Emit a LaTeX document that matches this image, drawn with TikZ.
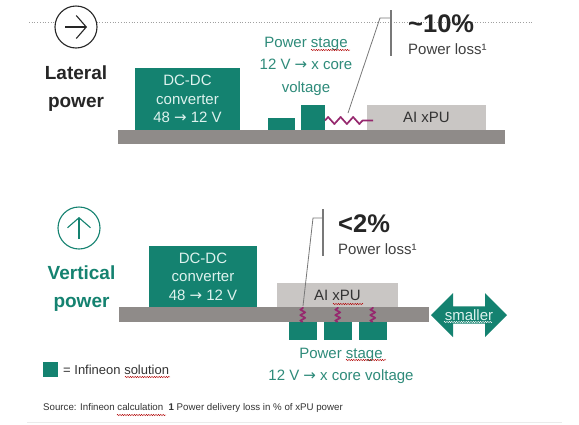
\documentclass[tikz,border=0pt]{standalone}
\usepackage{fontspec}
\setmainfont{Liberation Sans}
\newfontfamily\arrowfont{DejaVu Sans}
\newcommand{\toarrow}{{\arrowfont →}}
\usetikzlibrary{arrows.meta,positioning,shapes.arrows,decorations.pathmorphing}
\definecolor{ifxgreen}{RGB}{20,130,112}
\definecolor{ifxtext}{RGB}{46,139,122}
\definecolor{boardcol}{RGB}{143,139,137}
\definecolor{xpucol}{RGB}{201,198,196}
\definecolor{wirecol}{RGB}{150,40,110}
\definecolor{leadcol}{RGB}{120,120,120}
\definecolor{boxtext}{RGB}{222,242,238}
\tikzset{
  block/.style    = {rectangle, inner sep=0pt, outer sep=0pt, minimum width=#1},
  board/.style    = {block=#1, fill=boardcol, minimum height=14pt},
  conv/.style     = {block=#1, fill=ifxgreen, align=center, text=boxtext,
                     font=\fontsize{15}{18.5}\selectfont},
  stagebox/.style = {block=#1, fill=ifxgreen},
  xpu/.style      = {block=#1, fill=xpucol, text=black!80,
                     font=\fontsize{15}{18}\selectfont},
  stagelab/.style = {align=center, text=ifxtext, inner sep=0pt,
                     font=\fontsize{15}{22.5}\selectfont},
  title/.style    = {align=center, inner sep=0pt, font=\fontsize{19}{28}\selectfont\bfseries},
  dircircle/.style = {circle, draw=#1, line width=1.1pt, fill=white,
                     minimum size=42pt, inner sep=0pt},
  dirarrow/.style = {-{Straight Barb[length=10pt,width=23pt,line width=1.1pt]}, line width=1.1pt, draw=#1},
  wire/.style     = {draw=wirecol, line width=1.7pt, line join=round, decorate},
  lead/.style     = {draw=leadcol, line width=0.8pt},
  percent/.style  = {anchor=west, inner sep=0pt, text=black!85,
                     font=\fontsize{25.5}{28}\selectfont\bfseries},
  losslab/.style  = {anchor=west, inner sep=0pt, text=black!75,
                     font=\fontsize{15}{18}\selectfont},
  spell/.style    = {draw=#1, line width=0.4pt,
                     decorate, decoration={zigzag, amplitude=0.7pt, segment length=2.4pt}},
}

\begin{document}
\begin{tikzpicture}[x=1pt, y=-1pt]
  \useasboundingbox[fill=white] (0,0) rectangle (579,424);

  % lateral power
  \coordinate (dotl) at (29,22);
  \coordinate (dotr) at (533,22);
  \draw[leadcol!70, line width=0.7pt, dotted] (dotl) -- (dotr);
  \node[dircircle=black!85] (dir1) at (76,27) {};
  \draw[dirarrow=black!85] ([xshift=-11pt]dir1.center) -- ([xshift=11pt]dir1.center);
  \node[title, text=black!85] (lat) at (76,89) {Lateral\\power};

  \node[board=387pt, anchor=north west] (board1) at (118,130) {};
  \node[conv=105pt, minimum height=62pt, above right=0pt and 17pt of board1.north west] (dc1)
       {DC-DC\\converter\\48 \toarrow\ 12 V};
  \node[stagebox=27pt, minimum height=12pt, above right=0pt and 150pt of board1.north west] (ps1a) {};
  \node[stagebox=24pt, minimum height=25pt, above right=0pt and 183pt of board1.north west] (ps1b) {};
  \node[xpu=119pt, minimum height=25pt, above right=0pt and 249pt of board1.north west] (xpu1) {AI xPU};
  \node[stagelab] (lab1) at (306,66) {Power stage\\12 V \toarrow\ x core\\voltage};

  \coordinate (wire1) at (373,120.5);
  \draw[wire, decoration={zigzag, amplitude=3.5pt, segment length=12.5pt, post length=9pt}]
       (ps1b.east |- wire1) -- (wire1);

  \node[percent] (pct1) at (408,24) {\textasciitilde 10\%};
  \node[losslab] (loss1) at (408,49) {Power loss¹};
  \coordinate (tip1) at (348,113);
  \coordinate (knee1) at (380,18);
  \coordinate (bar1a) at (391,10);
  \coordinate (bar1b) at (391,56);
  \draw[lead] (tip1) -- (knee1) -- (knee1 -| bar1a);
  \draw[lead, line width=1.1pt] (bar1a) -- (bar1b);

  % vertical power
  \node[dircircle=ifxgreen] (dir2) at (79,228) {};
  \draw[dirarrow=ifxgreen] ([yshift=-11pt]dir2.center) -- ([yshift=11pt]dir2.center);
  \node[title, text=ifxgreen] (vert) at (81.5,289) {Vertical\\power};

  \node[board=310pt, minimum height=15pt, anchor=north west] (board2) at (119,307) {};
  \node[conv=108pt, minimum height=61pt, above right=0pt and 30pt of board2.north west] (dc2)
       {DC-DC\\converter\\48 \toarrow\ 12 V};
  \node[xpu=121pt, minimum height=24pt, above right=0pt and 158pt of board2.north west] (xpu2) {AI xPU};

  \foreach \n/\d in {a/170, b/205, c/240}
    \node[stagebox=27.5pt, minimum height=18pt, below right=0pt and \d pt of board2.south west] (ps2\n) {};
  \foreach \n in {a,b,c}
    \draw[wire, decoration={zigzag, amplitude=2.5pt, segment length=5.5pt}]
         (ps2\n.north) -- (ps2\n.north |- board2.north);

  \node[stagelab] (lab2) at (341,366) {Power stage\\12 V \toarrow\ x core voltage};

  \node[double arrow, fill=ifxgreen, text=boxtext, inner sep=0pt, minimum height=76pt,
        minimum width=44pt, double arrow head extend=9pt,
        font=\fontsize{15}{18}\selectfont] (small) at (469,315) {smaller};

  \node[percent] (pct2) at (338,224) {<2\%};
  \node[losslab] (loss2) at (338,249) {Power loss¹};
  \coordinate (tip2) at (303,306);
  \coordinate (knee2) at (313,218);
  \coordinate (bar2a) at (323,209);
  \coordinate (bar2b) at (323,256);
  \draw[lead] (tip2) -- (knee2) -- (knee2 -| bar2a);
  \draw[lead, line width=1.1pt] (bar2a) -- (bar2b);

  % legend and source
  \node[stagebox=15pt, minimum height=15pt, anchor=north west] (key) at (43,362) {};
  \node[anchor=west, inner sep=0pt, text=black!80, right=5pt of key,
        font=\fontsize{13}{16}\selectfont] (keylab) {= Infineon solution};
  \node[anchor=west, inner sep=0pt, text=black!80,
        font=\fontsize{9.7}{11}\selectfont] (src) at (43,408)
       {Source: Infineon calculation\ \ \textbf{1} Power delivery loss in \% of xPU power};
  \coordinate (footl) at (27,422.5);
  \coordinate (footr) at (562,422.5);
  \draw[black!8, line width=1pt] (footl) -- (footr);

  % spell check marks
  \foreach \a/\b/\c/\col in {311/350/50/red!70!black, 346/386/360/red!70!black,
                             125/170/377/red!70!black, 117/166/415/red!70!black,
                             333/363/304/red!70!black, 444/492/322/white} {
    \coordinate (sp1) at (\a,\c);
    \coordinate (sp2) at (\b,\c);
    \draw[spell=\col] (sp1) -- (sp2);
  }
\end{tikzpicture}
\end{document}
